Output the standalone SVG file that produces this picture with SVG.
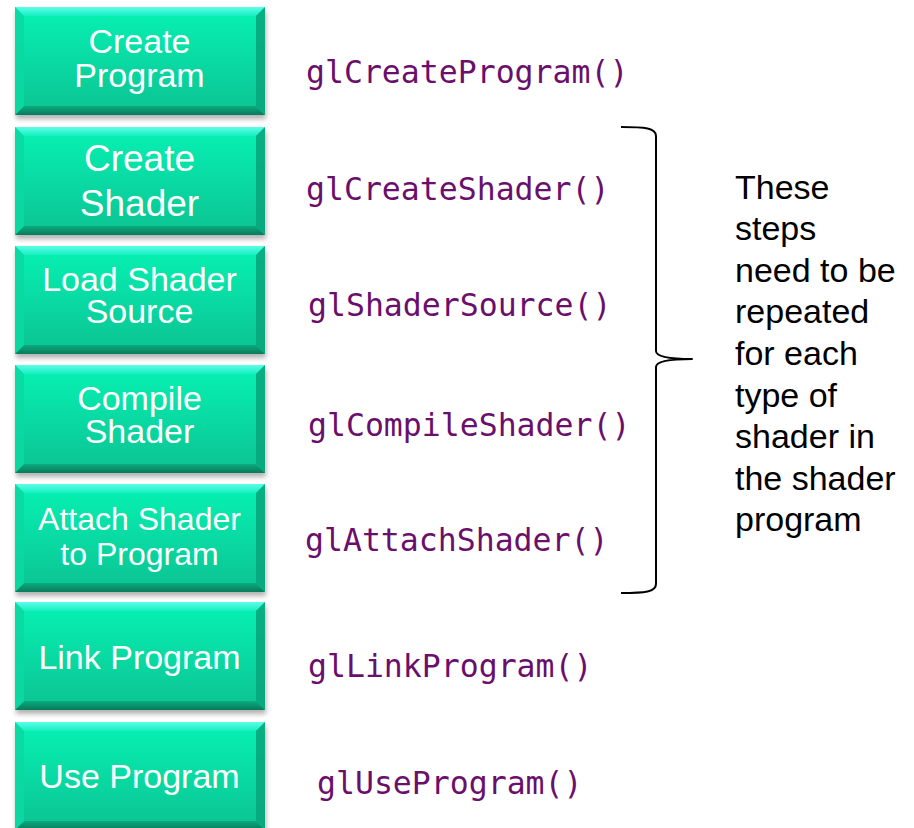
<svg xmlns="http://www.w3.org/2000/svg" xmlns:xlink="http://www.w3.org/1999/xlink" width="914" height="828" viewBox="0 0 914 828">
  <style>
    .lbl { font-family: "Liberation Sans", Arial, sans-serif; font-size: 34px; fill: #ffffff; text-anchor: middle; }
    .code { font-family: "DejaVu Sans Mono", "Liberation Mono", monospace; font-size: 31.5px; fill: #6a0f6c; }
    .note { font-family: "Liberation Sans", Arial, sans-serif; font-size: 34px; fill: #000000; }
    .brace { fill: none; stroke: #000000; stroke-width: 2; stroke-linejoin: round; }
  </style>
  <defs>
    <linearGradient id="faceGrad" x1="0" y1="0" x2="0" y2="1">
      <stop offset="0" stop-color="#06f2b4"/>
      <stop offset="1" stop-color="#0cc292"/>
    </linearGradient>
    <linearGradient id="topGrad" x1="0" y1="0" x2="0" y2="1">
      <stop offset="0" stop-color="#5ffce9"/>
      <stop offset="1" stop-color="#14f0c0"/>
    </linearGradient>
    <linearGradient id="botGrad" x1="0" y1="0" x2="0" y2="1">
      <stop offset="0" stop-color="#0bab7e"/>
      <stop offset="1" stop-color="#097a5a"/>
    </linearGradient>
    <filter id="shadow" x="-10%" y="-10%" width="120%" height="130%">
      <feGaussianBlur stdDeviation="2.5"/>
    </filter>
    <!-- bevelled button, 250 x 108 -->
    <g id="bevel">
      <rect x="1" y="4" width="250" height="108" fill="#000" opacity="0.3" filter="url(#shadow)"/>
      <rect x="0" y="0" width="250" height="108" fill="url(#faceGrad)"/>
      <polygon points="0,0 250,0 241,9 9,9" fill="url(#topGrad)"/>
      <polygon points="0,108 250,108 241,99 9,99" fill="url(#botGrad)"/>
      <polygon points="0,0 9,9 9,99 0,108" fill="#0bd8a2" opacity="0.9"/>
      <polygon points="250,0 241,9 241,99 250,108" fill="#0aa67d" opacity="0.9"/>
    </g>
  </defs>

  <rect width="914" height="828" fill="#ffffff"/>

  <g id="node-create-program">
    <use xlink:href="#bevel" x="15" y="7"/>
    <text class="lbl"><tspan x="139.5" y="53">Create</tspan><tspan x="139.5" y="87">Program</tspan></text>
  </g>
  <g id="node-create-shader">
    <use xlink:href="#bevel" x="15" y="127"/>
    <text class="lbl" style="font-size:37px"><tspan x="139.5" y="171">Create</tspan><tspan x="139.5" y="216">Shader</tspan></text>
  </g>
  <g id="node-load-source">
    <use xlink:href="#bevel" x="15" y="246"/>
    <text class="lbl"><tspan x="139.5" y="291">Load Shader</tspan><tspan x="139.5" y="323">Source</tspan></text>
  </g>
  <g id="node-compile-shader">
    <use xlink:href="#bevel" x="15" y="365"/>
    <text class="lbl"><tspan x="139.5" y="410">Compile</tspan><tspan x="139.5" y="443">Shader</tspan></text>
  </g>
  <g id="node-attach-shader">
    <use xlink:href="#bevel" x="15" y="484"/>
    <text class="lbl" style="font-size:32px"><tspan x="139.5" y="530">Attach Shader</tspan><tspan x="139.5" y="565">to Program</tspan></text>
  </g>
  <g id="node-link-program">
    <use xlink:href="#bevel" x="15" y="602"/>
    <text class="lbl" x="139.5" y="669">Link Program</text>
  </g>
  <g id="node-use-program">
    <use xlink:href="#bevel" x="15" y="722"/>
    <text class="lbl" x="139.5" y="788">Use Program</text>
  </g>

  <!-- GL calls for each step -->
  <g id="gl-calls">
    <text class="code" x="306" y="83">glCreateProgram()</text>
    <text class="code" x="306" y="200">glCreateShader()</text>
    <text class="code" x="308" y="316">glShaderSource()</text>
    <text class="code" x="308" y="436">glCompileShader()</text>
    <text class="code" x="305" y="551">glAttachShader()</text>
    <text class="code" x="308" y="677">glLinkProgram()</text>
    <text class="code" x="317" y="794">glUseProgram()</text>
  </g>

  <!-- curly brace grouping the per-shader steps -->
  <g id="connectors">
    <path class="brace" d="M621,127 C645,127 656,128 656,136 L656,351 C656,357 670,359 692,359 C670,359 656,361 656,367 L656,584 C656,592 645,593 621,593"/>
  </g>

  <g id="note">
    <text class="note" x="735" y="199">These</text>
    <text class="note" x="735" y="240">steps</text>
    <text class="note" x="735" y="282">need to be</text>
    <text class="note" x="735" y="323">repeated</text>
    <text class="note" x="735" y="365">for each</text>
    <text class="note" x="735" y="407">type of</text>
    <text class="note" x="735" y="448">shader in</text>
    <text class="note" x="735" y="490">the shader</text>
    <text class="note" x="735" y="531">program</text>
  </g>
</svg>
